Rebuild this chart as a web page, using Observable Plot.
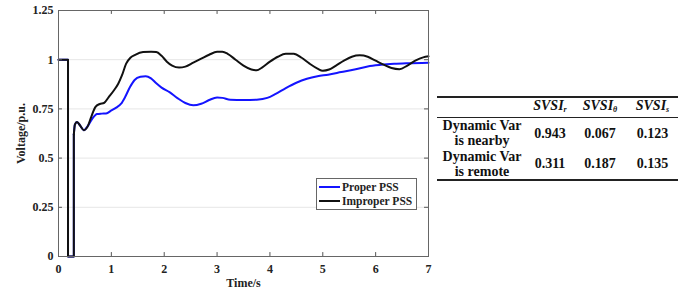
<!DOCTYPE html>
<html>
<head>
<meta charset="utf-8">
<script src="https://cdn.jsdelivr.net/npm/d3@7"></script>
<script src="https://cdn.jsdelivr.net/npm/@observablehq/plot@0.6"></script>
<style>
  html, body { margin: 0; padding: 0; background: #fff; }
  #root { position: relative; width: 689px; height: 292px; font-family: "Liberation Serif", "Times New Roman", serif; font-weight: bold; }
  #legend { position: absolute; left: 316px; top: 178px; width: 101px; height: 32px; border: 1px solid #666; background: #fff; box-sizing: border-box; font-size: 11.5px; color: #222; }
  .li { position: absolute; left: 2px; height: 14px; display: flex; align-items: center; white-space: nowrap; }
  .li span.sw { display: inline-block; width: 21px; height: 2px; margin-right: 2px; }
  #tbl { position: absolute; left: 437px; top: 96px; border-collapse: collapse; font-size: 14px; line-height: 15px; color: #111; }
  #tbl td, #tbl th { padding: 0; text-align: center; font-weight: bold; white-space: nowrap; }
  #tbl thead tr { border-top: 2.5px solid #222; border-bottom: 1px solid #222; height: 16px; }
  #tbl tbody tr:last-child { border-bottom: 2.5px solid #222; }
  #tbl th { font-style: italic; font-weight: bold; }
  #tbl sub { font-size: 8px; vertical-align: -2px; }
</style>
</head>
<body>
<div id="root"></div>
<script>
// ---- data ----
const stepT = [0, 0.18, 0.18, 0.29, 0.29];
const stepV = [1, 1, 0, 0, 0.62];

const properT = [0.29,0.31,0.35,0.41,0.48,0.56,0.65,0.73,0.82,0.9,1.0,1.1,1.18,1.26,1.35,1.44,1.55,1.65,1.75,1.85,1.95,2.1,2.25,2.4,2.55,2.7,2.85,3.0,3.1,3.25,3.5,3.75,3.95,4.1,4.3,4.5,4.7,4.9,5.1,5.35,5.6,5.85,6.1,6.35,6.6,7.0];
const properV = [0.62,0.67,0.684,0.665,0.642,0.665,0.705,0.724,0.726,0.727,0.742,0.758,0.775,0.81,0.86,0.897,0.913,0.916,0.905,0.88,0.858,0.835,0.805,0.78,0.768,0.776,0.795,0.808,0.806,0.796,0.795,0.797,0.806,0.825,0.856,0.883,0.903,0.916,0.924,0.937,0.95,0.966,0.974,0.979,0.982,0.985];

const improperT = [0.29,0.31,0.35,0.41,0.48,0.55,0.62,0.7,0.78,0.86,0.95,1.05,1.13,1.2,1.28,1.36,1.45,1.6,1.75,1.85,1.95,2.05,2.15,2.28,2.4,2.55,2.7,2.85,3.0,3.1,3.2,3.35,3.5,3.65,3.75,3.85,4.0,4.15,4.3,4.45,4.6,4.75,4.9,5.0,5.12,5.25,5.4,5.55,5.7,5.85,6.0,6.15,6.3,6.45,6.6,6.75,6.9,7.0];
const improperV = [0.62,0.67,0.684,0.665,0.642,0.66,0.71,0.76,0.775,0.78,0.81,0.845,0.878,0.92,0.98,1.01,1.025,1.039,1.04,1.039,1.02,0.99,0.97,0.96,0.965,0.985,1.005,1.025,1.04,1.04,1.03,1.0,0.97,0.95,0.946,0.96,0.99,1.015,1.03,1.03,1.01,0.98,0.955,0.944,0.95,0.97,0.995,1.015,1.022,1.015,0.995,0.975,0.958,0.952,0.97,0.995,1.012,1.017];

const xTicks = [0,1,2,3,4,5,6,7];
const yTicks = [0,0.25,0.5,0.75,1,1.25];
const yTickLabels = ["0","0.25","0.5","0.75","1","1.25"];

const seriesNames = ["Proper PSS", "Improper PSS"];
const seriesColors = ["#1414ff", "#111111"];

const tableCols = ["r", "θ", "s"];
const tableRows = ["Dynamic Var is nearby", "Dynamic Var is remote"];
const tableRowLines = [["Dynamic Var", "is nearby"], ["Dynamic Var", "is remote"]];
const tableVals = [["0.943","0.067","0.123"],["0.311","0.187","0.135"]];

// ---- build ----
const zip = (t, v) => t.map((d, i) => ({t: d, v: v[i]}));
const step = zip(stepT, stepV);
const proper = zip(properT, properV);
const improper = zip(improperT, improperV);

const plot = Plot.plot({
  width: 689,
  height: 292,
  marginLeft: 58,
  marginRight: 261,
  marginTop: 10,
  marginBottom: 36,
  style: {fontFamily: "'Liberation Serif', 'Times New Roman', serif", fontSize: "12px", fontWeight: "bold", color: "#222"},
  x: {domain: [0, 7]},
  y: {domain: [0, 1.25]},
  marks: [
    Plot.ruleY(yTicks.slice(1, -1), {stroke: "#e6e6e6", strokeWidth: 1}),
    Plot.line(step, {x: "t", y: "v", stroke: seriesColors[0], strokeWidth: 2}),
    Plot.line(proper, {x: "t", y: "v", stroke: seriesColors[0], strokeWidth: 2, curve: "monotone-x"}),
    Plot.line(step, {x: "t", y: "v", stroke: seriesColors[1], strokeWidth: 2}),
    Plot.line(improper, {x: "t", y: "v", stroke: seriesColors[1], strokeWidth: 2, curve: "monotone-x"}),
    // inward ticks
    Plot.ruleX(xTicks, {y1: 0, y2: 0.02, stroke: "#555"}),
    Plot.ruleX(xTicks, {y1: 1.25, y2: 1.23, stroke: "#555"}),
    Plot.ruleY(yTicks, {x1: 0, x2: 0.075, stroke: "#555"}),
    Plot.ruleY(yTicks, {x1: 7, x2: 6.925, stroke: "#555"}),
    Plot.frame({stroke: "#666", strokeWidth: 1}),
    Plot.axisX(xTicks, {tickSize: 0, tickPadding: 8, label: "Time/s", labelAnchor: "center", labelArrow: "none", labelOffset: 30, fontSize: 12}),
    Plot.axisY(yTicks, {tickSize: 0, tickPadding: 5, tickFormat: (d) => yTickLabels[yTicks.indexOf(d)], label: "Voltage/p.u.", labelAnchor: "center", labelArrow: "none", labelOffset: 42, fontSize: 12})
  ]
});

const root = document.getElementById("root");
root.appendChild(plot);

// legend
const legend = document.createElement("div");
legend.id = "legend";
seriesNames.forEach((name, i) => {
  const it = document.createElement("div");
  it.className = "li";
  it.style.top = (1 + i * 14) + "px";
  const sw = document.createElement("span");
  sw.className = "sw";
  sw.style.background = seriesColors[i];
  it.appendChild(sw);
  const tx = document.createElement("span");
  tx.textContent = name;
  it.appendChild(tx);
  legend.appendChild(it);
});
root.appendChild(legend);

// table
const colW = [90, 46, 54, 51];
const tbl = document.createElement("table");
tbl.id = "tbl";
const thead = document.createElement("thead");
const hr = document.createElement("tr");
const th0 = document.createElement("th");
th0.style.width = colW[0] + "px";
hr.appendChild(th0);
tableCols.forEach((c, i) => {
  const th = document.createElement("th");
  th.style.width = colW[i + 1] + "px";
  th.innerHTML = "SVSI<sub>" + c + "</sub>";
  hr.appendChild(th);
});
thead.appendChild(hr);
tbl.appendChild(thead);
const tb = document.createElement("tbody");
tableRows.forEach((r, ri) => {
  const tr = document.createElement("tr");
  const td0 = document.createElement("td");
  td0.innerHTML = tableRowLines[ri].join("<br>");
  td0.title = r;
  tr.appendChild(td0);
  tableVals[ri].forEach(v => {
    const td = document.createElement("td");
    td.textContent = v;
    tr.appendChild(td);
  });
  tr.style.height = "31px";
  tb.appendChild(tr);
});
tbl.appendChild(tb);
root.appendChild(tbl);
</script>
</body>
</html>
